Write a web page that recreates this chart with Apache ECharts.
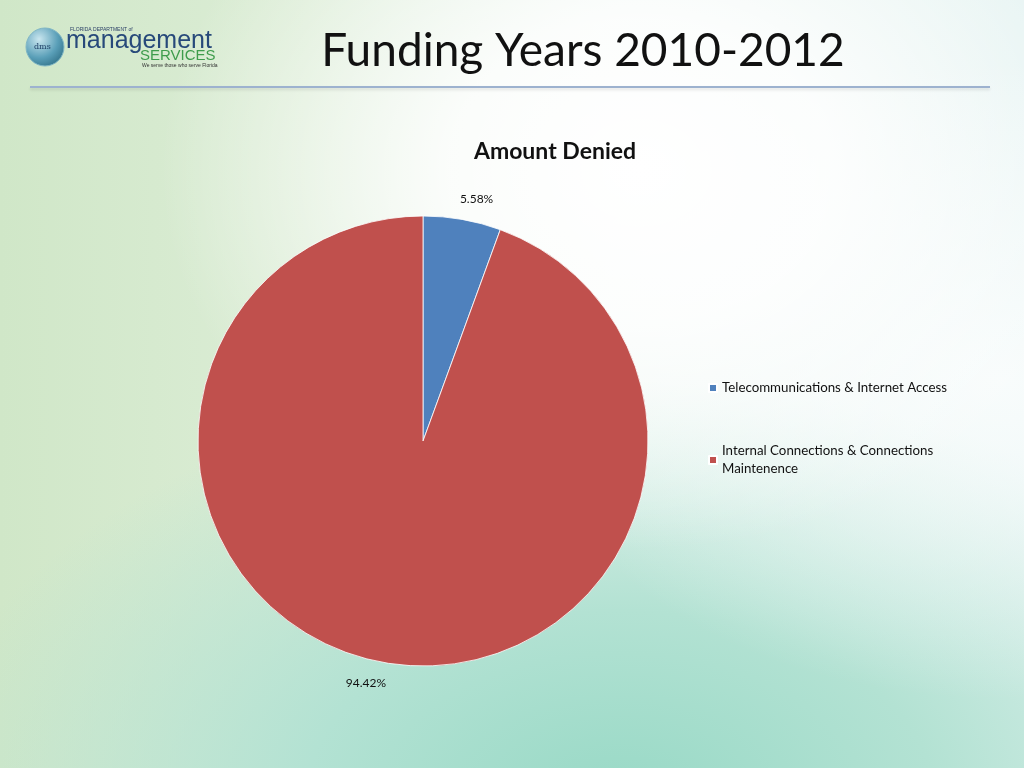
<!DOCTYPE html>
<html>
<head>
<meta charset="utf-8">
<script src="https://cdn.jsdelivr.net/npm/echarts@6/dist/echarts.min.js"></script>
<style>
html,body{margin:0;padding:0;width:1024px;height:768px;overflow:hidden;}
body{
  background:
    radial-gradient(ellipse 480px 380px at 640px 170px, rgba(255,255,255,1) 0%, rgba(255,255,255,0.85) 40%, rgba(255,255,255,0) 100%),
    radial-gradient(ellipse 480px 320px at 1000px 380px, rgba(250,253,253,0.9) 0%, rgba(250,253,253,0) 100%),
    radial-gradient(ellipse 700px 420px at 620px 800px, #98d9c6 0%, #b3e2d3 45%, rgba(200,232,222,0) 100%),
    linear-gradient(90deg, #d0e7c8 0%, #dcedd6 30%, #eaf5ef 60%, #e7f4f3 100%);
}
#chart{width:1024px;height:768px;}
</style>
</head>
<body>
<div id="chart"></div>
<script>
var slideTitle = "Funding Years 2010-2012";
var chartTitle = "Amount Denied";
var categories = ["Telecommunications & Internet Access", "Internal Connections & Connections Maintenence"];
var values = [5.58, 94.42];
var colors = ["#4f81bd", "#c0504d"];

var chart = echarts.init(document.getElementById('chart'));
var data = categories.map(function (c, i) {
  return { name: c, value: values[i], itemStyle: { color: colors[i] } };
});

chart.setOption({
  backgroundColor: 'transparent',
  animation: false,
  title: [
    { text: slideTitle, left: 578, top: 23, textAlign: 'center',
      textStyle: { fontFamily: 'Lato', fontSize: 46, fontWeight: 'normal', color: '#111' } },
    { text: chartTitle, left: 550, top: 135, textAlign: 'center',
      textStyle: { fontFamily: 'Lato', fontSize: 23, fontWeight: 'bold', color: '#111' } }
  ],
  legend: {
    orient: 'vertical',
    left: 703,
    top: 374,
    itemWidth: 8,
    itemHeight: 8,
    itemGap: 45,
    icon: 'rect',
    data: categories,
    formatter: function (n) {
      return n === categories[1] ? 'Internal Connections & Connections\nMaintenence' : n;
    },
    textStyle: { fontFamily: 'Lato', fontSize: 13.3, color: '#111', lineHeight: 18 }
  },
  graphic: [
    { type: 'line', shape: { x1: 30, y1: 87, x2: 990, y2: 87 },
      style: { stroke: '#9db2cf', lineWidth: 2, shadowColor: 'rgba(0,0,0,0.12)', shadowBlur: 3, shadowOffsetY: 2 } },
    { type: 'circle', shape: { cx: 45, cy: 47, r: 19 },
      style: { fill: new echarts.graphic.RadialGradient(0.35, 0.3, 0.8, [
        { offset: 0, color: '#c9e6ef' }, { offset: 0.6, color: '#5a9fb8' }, { offset: 1, color: '#2f6f86' }]),
        stroke: '#7fb5c4', lineWidth: 1 } },
    { type: 'text', left: 34, top: 43, style: { text: 'dms', fontFamily: 'DejaVu Serif', fontSize: 8, fill: '#1f3f66' } },
    { type: 'text', left: 70, top: 27, style: { text: 'FLORIDA DEPARTMENT of', fontFamily: 'Liberation Sans', fontSize: 5, fill: '#2a3f66' } },
    { type: 'text', left: 66, top: 29, style: { text: 'management', fontFamily: 'Liberation Sans', fontSize: 25, fill: '#27497a', letterSpacing: -1 } },
    { type: 'text', left: 140, top: 48, style: { text: 'SERVICES', fontFamily: 'Liberation Sans', fontSize: 15, fill: '#3e9c4c' } },
    { type: 'text', left: 142, top: 63, style: { text: 'We serve those who serve Florida', fontFamily: 'Liberation Sans', fontSize: 5, fill: '#333' } }
  ],
  series: [{
    type: 'pie',
    center: [423, 441],
    radius: [0, 225],
    startAngle: 90,
    clockwise: true,
    data: data,
    itemStyle: { borderColor: '#ffffff', borderWidth: 0.8 },
    label: {
      show: true,
      position: 'outside',
      formatter: function (p) { return p.value.toFixed(2) + '%'; },
      fontFamily: 'Lato',
      fontSize: 12,
      color: '#111',
      distanceToLabelLine: -6
    },
    labelLine: { show: false, length: 21, length2: 0 },
    emphasis: { disabled: true }
  }]
});
</script>
</body>
</html>
